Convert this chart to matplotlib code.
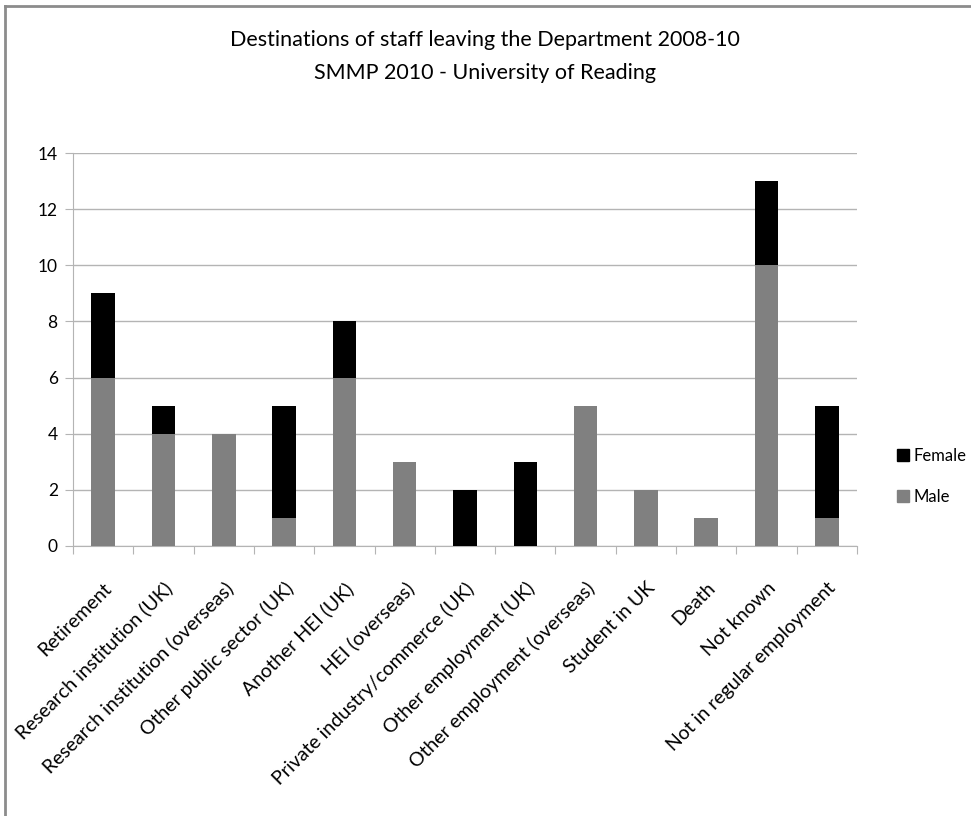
import matplotlib.pyplot as plt
from matplotlib.lines import Line2D

categories = ['Retirement', 'Research institution (UK)', 'Research institution (overseas)',
              'Other public sector (UK)', 'Another HEI (UK)', 'HEI (overseas)',
              'Private industry/commerce (UK)', 'Other employment (UK)',
              'Other employment (overseas)', 'Student in UK', 'Death', 'Not known',
              'Not in regular employment']
male = [6, 4, 4, 1, 6, 3, 0, 0, 5, 2, 1, 10, 1]
female = [3, 1, 0, 4, 2, 0, 2, 3, 0, 0, 0, 3, 4]

plt.rcParams['font.family'] = ['Lato', 'DejaVu Sans']

W, H = 971, 816
fig = plt.figure(figsize=(W / 100, H / 100), dpi=100)
ax = fig.add_axes([73 / W, 1 - 546 / H, (857 - 73) / W, (546 - 153) / H])

x = list(range(len(categories)))
ax.bar(x, male, width=0.39, color='#808080', label='Male', zorder=3)
ax.bar(x, female, width=0.39, bottom=male, color='black', label='Female', zorder=3)

ax.set_xlim(-0.5, len(categories) - 0.5)
ax.set_ylim(0, 14)
ax.set_yticks(range(0, 15, 2))
ax.yaxis.grid(True, color='#b4b4b4', linewidth=1)
ax.set_axisbelow(True)
for s in ['top', 'right']:
    ax.spines[s].set_visible(False)
ax.spines['left'].set_color('#b4b4b4')
ax.spines['bottom'].set_color('#b4b4b4')
ax.tick_params(axis='y', colors='#b4b4b4', labelcolor='black', labelsize=12.5, length=6, pad=5)

# ticks between categories, labels at centres
ax.set_xticks([i - 0.5 for i in range(len(categories) + 1)])
ax.set_xticklabels([])
ax.tick_params(axis='x', colors='#b4b4b4', length=6)
ax.set_xticks(x, minor=True)
ax.set_xticklabels(categories, minor=True, rotation=45, ha='right', rotation_mode='anchor',
                   fontsize=14)
ax.tick_params(axis='x', which='minor', length=0, pad=24, labelcolor='black')

fig.text(485 / W, 1 - 40 / H, 'Destinations of staff leaving the Department 2008-10',
         ha='center', va='center', fontsize=15.5)
fig.text(485 / W, 1 - 73 / H, 'SMMP 2010 - University of Reading',
         ha='center', va='center', fontsize=15.5)

handles = [Line2D([], [], marker='s', linestyle='none', color='black', markersize=9),
           Line2D([], [], marker='s', linestyle='none', color='#808080', markersize=9)]
fig.legend(handles, ['Female', 'Male'], loc='center left', bbox_to_anchor=(880 / W, 1 - 476 / H),
           frameon=False, fontsize=12, handletextpad=0.1, labelspacing=1.5, handlelength=1.0)

# chart frame (left and top edges visible)
fig.add_artist(Line2D([5 / W, 5 / W], [0, 1 - 6 / H], color='#8c8c8c', linewidth=2))
fig.add_artist(Line2D([5 / W, 1], [1 - 6 / H, 1 - 6 / H], color='#8c8c8c', linewidth=2))

fig.savefig('out.png', dpi=100)
